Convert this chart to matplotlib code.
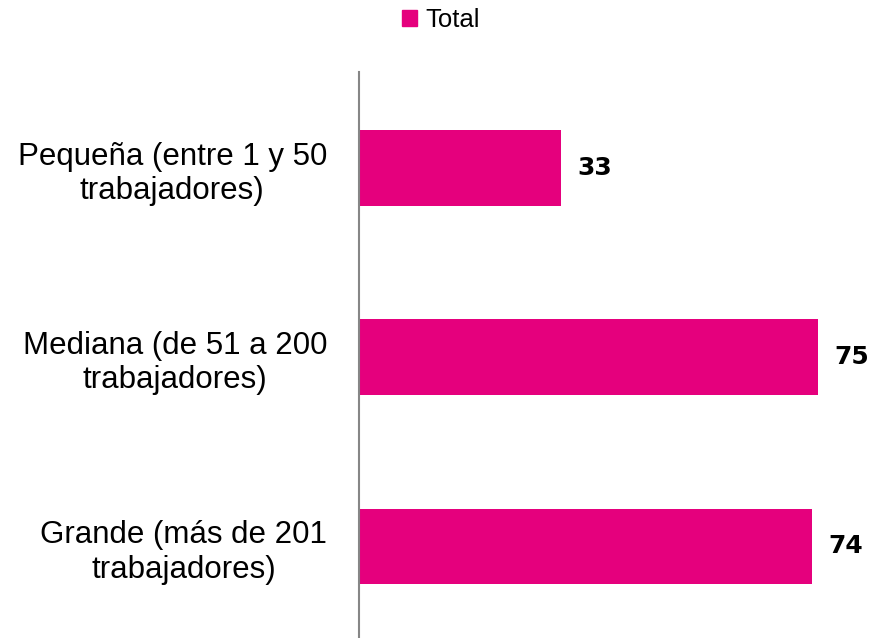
import matplotlib
matplotlib.use("Agg")
import matplotlib.pyplot as plt
from matplotlib.patches import Patch

categories = ["Pequeña (entre 1 y 50\ntrabajadores)",
              "Mediana (de 51 a 200\ntrabajadores)",
              "Grande (más de 201\ntrabajadores)"]
values = [33, 75, 74]
series_name = "Total"
bar_color = "#E5007D"

fig = plt.figure(figsize=(8.71, 6.38), dpi=100)
ax = fig.add_axes([359/871, 0.0, 1 - 359/871, 1 - 72/638])

ypos = list(range(len(categories)))
ax.barh(ypos, values, height=0.40, color=bar_color)
ax.set_xlim(0, 83.7)
ax.set_ylim(2.484, -0.508)

ax.set_yticks(ypos)
ax.set_yticklabels(categories, fontsize=22.5, family="Liberation Sans",
                   multialignment="center", linespacing=1.2)
ax.tick_params(axis="y", length=0, pad=23)
ax.set_xticks([])
for s in ["top", "right", "bottom"]:
    ax.spines[s].set_visible(False)
ax.spines["left"].set_color("#868686")
ax.spines["left"].set_linewidth(1.5)

for y, v in zip(ypos, values):
    ax.annotate(str(v), (v, y), xytext=(12, 0), textcoords="offset points",
                ha="left", va="center", fontsize=18, fontweight="bold",
                family="DejaVu Sans")

fig.legend(handles=[Patch(color=bar_color, label=series_name)],
           loc="center", bbox_to_anchor=(441/871, 1 - 20/638),
           frameon=False, handlelength=0.58, handleheight=0.58,
           handletextpad=0.3, prop={"family": "Liberation Sans", "size": 18.5})

fig.savefig("out.png", dpi=100)
